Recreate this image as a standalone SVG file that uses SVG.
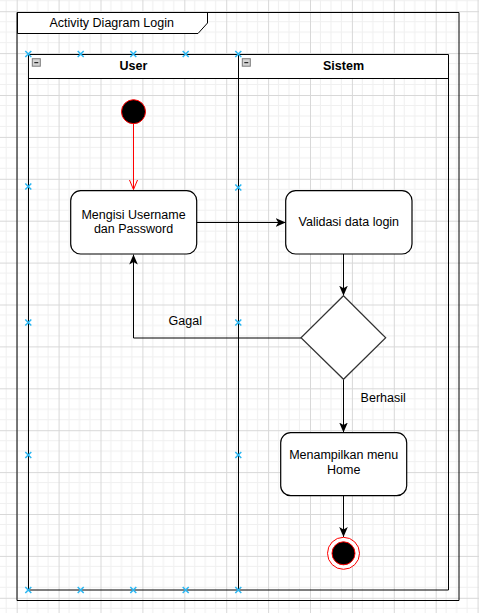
<svg xmlns="http://www.w3.org/2000/svg" width="479" height="613" viewBox="0 0 479 613">
<defs>
<pattern id="grid" patternUnits="userSpaceOnUse" x="16.7" y="11.2" width="41.9" height="41.9">
<rect width="41.9" height="41.9" fill="#ffffff"/>
<path d="M10.475 0V41.9M20.95 0V41.9M31.425 0V41.9M0 10.475H41.9M0 20.95H41.9M0 31.425H41.9" stroke="#f0f0f0" stroke-width="1" fill="none"/>
<path d="M0.5 0V41.9M0 0.5H41.9" stroke="#d8d8d8" stroke-width="1" fill="none"/>
</pattern>
<marker id="arr" viewBox="0 0 10 10" refX="10" refY="5" markerWidth="10" markerHeight="10" markerUnits="userSpaceOnUse" orient="auto">
<path d="M10 5L0 0.7L2.6 5L0 9.3Z" fill="#000"/>
</marker>
<marker id="open" viewBox="0 0 10 10" refX="9.5" refY="5" markerWidth="10" markerHeight="10" markerUnits="userSpaceOnUse" orient="auto">
<path d="M0 1L9.5 5L0 9" fill="none" stroke="#ff0000" stroke-width="1"/>
</marker>
<path id="hx" d="M-3 -3L3 3M-3 3L3 -3" stroke="#29b6f2" stroke-width="1.5" fill="none"/>
<g id="minus">
<rect x="0.5" y="0.5" width="8" height="7.5" fill="#d4d4d4" stroke="#7a7a7a" stroke-width="1"/>
<path d="M2.5 4.5H6.5" stroke="#000" stroke-width="1"/>
</g>
</defs>
<style>
.t{font-family:"Liberation Sans",Arial,sans-serif;font-size:12.5px;fill:#000;text-anchor:middle}
.b{font-weight:bold}
.act{fill:#ffffff;stroke:#000;stroke-width:1.2}
.ln{stroke:#000;stroke-width:1;fill:none}
.fr{stroke:#000;stroke-width:1;fill:none}
</style>
<rect width="479" height="613" fill="url(#grid)"/>

<g id="frame">
<path d="M17.5 12.5H207.5V23L198 33.5H17.5Z" fill="#ffffff" stroke="#000" stroke-width="1"/>
<path class="fr" d="M17 12.5V600.5H459V12.5H17"/>
<text class="t" x="111.7" y="27">Activity Diagram Login</text>
</g>

<g id="pool">
<rect x="28.5" y="54.5" width="210" height="24" fill="#ffffff"/>
<rect x="238.5" y="54.5" width="210" height="24" fill="#ffffff"/>
<path class="fr" d="M28.5 54.5H448.5V590H28.5Z"/>
<path class="fr" d="M28.5 78.5H448.5M238.5 54.5V590"/>
<use href="#minus" x="31.8" y="58.2"/>
<use href="#minus" x="241.8" y="58.2"/>
<text class="t b" x="133.5" y="69.5">User</text>
<text class="t b" x="343.5" y="69.5">Sistem</text>
</g>

<g id="connectors">
<path d="M133.5 124V189.5" stroke="#ff0000" stroke-width="1" fill="none" marker-end="url(#open)"/>
<path class="ln" d="M196.7 222.5H285.7" marker-end="url(#arr)"/>
<path class="ln" d="M343.5 254V295.7" marker-end="url(#arr)"/>
<path class="ln" d="M301 338H133.5V254.5" marker-end="url(#arr)"/>
<path class="ln" d="M343.5 379.3V432.5" marker-end="url(#arr)"/>
<path class="ln" d="M343.5 495.7V537" marker-end="url(#arr)"/>
<text class="t" x="185.3" y="325">Gagal</text>
<text class="t" x="383.2" y="402">Berhasil</text>
</g>

<g id="start">
<circle cx="133.5" cy="111.7" r="12" fill="#000" stroke="#ff0000" stroke-width="1"/>
</g>

<g id="mengisi">
<rect class="act" x="70.7" y="190.7" width="126" height="63.3" rx="10"/>
<text class="t" x="133.5" y="218.5">Mengisi Username</text>
<text class="t" x="133.5" y="233.3">dan Password</text>
</g>

<g id="validasi">
<rect class="act" x="285.7" y="190.7" width="126.3" height="63.3" rx="10"/>
<text class="t" x="348.8" y="226">Validasi data login</text>
</g>

<g id="decision">
<path d="M343.5 295.7L385.7 337.7L343.5 379.3L301 337.7Z" fill="#ffffff" stroke="#333" stroke-width="1.2"/>
</g>

<g id="menampilkan">
<rect class="act" x="280.7" y="432.7" width="126" height="63" rx="10"/>
<text class="t" x="343.7" y="459.3">Menampilkan menu</text>
<text class="t" x="343.7" y="474.3">Home</text>
</g>

<g id="end">
<circle cx="343.5" cy="553.3" r="16" fill="#ffffff" stroke="#ff0000" stroke-width="1"/>
<circle cx="343.5" cy="553.3" r="11.5" fill="#000" stroke="#ff0000" stroke-width="1"/>
</g>

<g id="handles">
<use href="#hx" x="28.3" y="54"/>
<use href="#hx" x="80.7" y="54"/>
<use href="#hx" x="133.3" y="54"/>
<use href="#hx" x="185.7" y="54"/>
<use href="#hx" x="238.3" y="54"/>
<use href="#hx" x="28.3" y="186.5"/>
<use href="#hx" x="28.3" y="322.5"/>
<use href="#hx" x="28.3" y="455"/>
<use href="#hx" x="238.3" y="187.5"/>
<use href="#hx" x="238.3" y="322.5"/>
<use href="#hx" x="238.3" y="455"/>
<use href="#hx" x="28.3" y="590"/>
<use href="#hx" x="80.7" y="590"/>
<use href="#hx" x="133.3" y="590"/>
<use href="#hx" x="185.7" y="590"/>
<use href="#hx" x="238.3" y="590"/>
</g>
</svg>
